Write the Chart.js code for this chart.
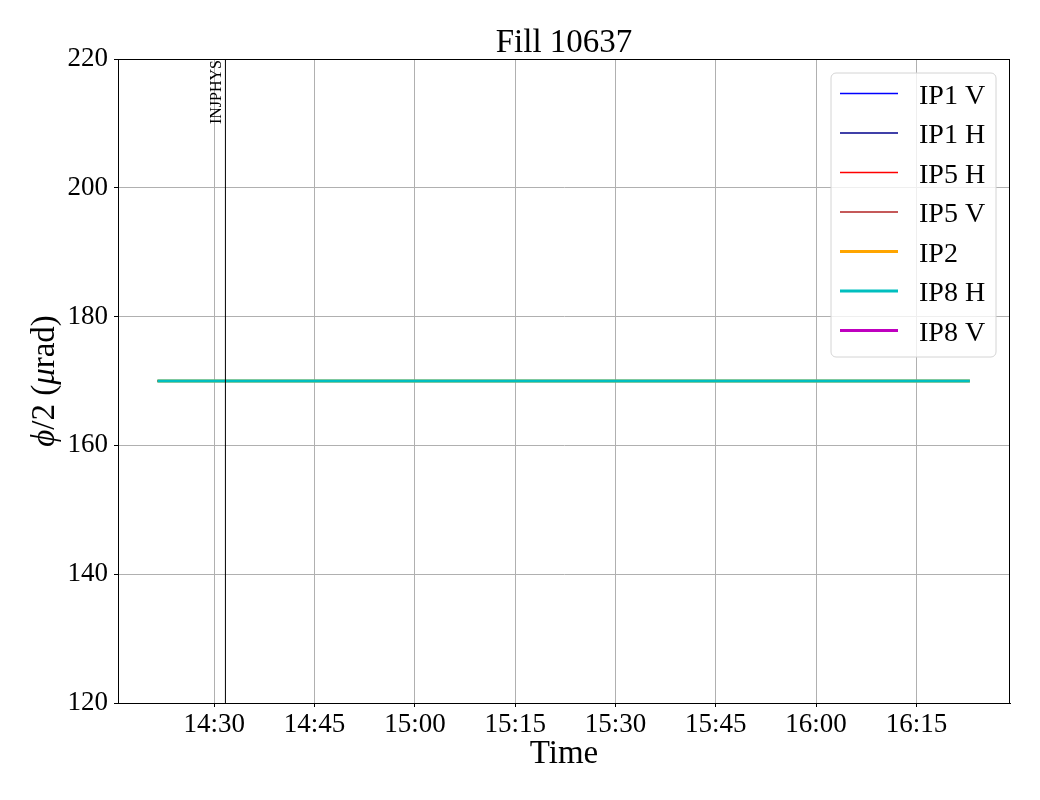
<!DOCTYPE html>
<html>
<head>
<meta charset="utf-8">
<script src="https://cdn.jsdelivr.net/npm/chart.js@4.4.1/dist/chart.umd.min.js"></script>
<style>
  body { margin: 0; background: #fff; }
  canvas { display: block; }
</style>
</head>
<body>
<canvas id="fillChart" width="1040" height="800"></canvas>
<script>
// data
const sampleTimes = ['14:21:30', '14:35:00', '15:00:00', '15:30:00', '16:00:00', '16:23:00'];
const ip1V = [170, 170, 170, 170, 170, 170];
const ip1H = [170, 170, 170, 170, 170, 170];
const ip5H = [170, 170, 170, 170, 170, 170];
const ip5V = [170, 170, 170, 170, 170, 170];
const ip2 = [170, 170, 170, 170, 170, 170];
const ip8H = [170, 170, 170, 170, 170, 170];
const ip8V = [];
const markerTimes = ['14:31:40'];
const markerNames = ['INJPHYS'];
const xTickLabels = ['14:30', '14:45', '15:00', '15:15', '15:30', '15:45', '16:00', '16:15'];
const yTicks = [120, 140, 160, 180, 200, 220];

const FONT = "'Liberation Serif', 'DejaVu Serif', serif";

function toMin(s) {
    const p = s.split(':').map(Number);
    return p[0] * 60 + p[1] + (p[2] || 0) / 60;
}
function fmt(m) {
    const h = Math.floor(m / 60), mm = Math.round(m - h * 60);
    return String(h).padStart(2, '0') + ':' + String(mm).padStart(2, '0');
}
const tMin = sampleTimes.map(toMin);
function pts(vals) {
    return vals.map((v, i) => ({ x: tMin[i], y: v }));
}

const series = [
    { label: 'IP1 V', data: ip1V, color: '#0000ff', width: 1.5 },
    { label: 'IP1 H', data: ip1H, color: '#00008b', width: 1.5 },
    { label: 'IP5 H', data: ip5H, color: '#ff0000', width: 1.5 },
    { label: 'IP5 V', data: ip5V, color: '#b22222', width: 1.5 },
    { label: 'IP2', data: ip2, color: '#ffa500', width: 3 },
    { label: 'IP8 H', data: ip8H, color: '#00bfbf', width: 3 },
    { label: 'IP8 V', data: ip8V, color: '#bf00bf', width: 3 }
];

const datasets = series.map((s, i) => ({
    label: s.label,
    data: pts(s.data),
    borderColor: s.color,
    borderWidth: s.width,
    pointRadius: 0,
    fill: false,
    order: 10 - i
}));
markerTimes.forEach((t, i) => {
    datasets.push({
        label: markerNames[i],
        data: [{ x: toMin(t), y: yTicks[0] }, { x: toMin(t), y: yTicks[yTicks.length - 1] }],
        borderColor: '#000',
        borderWidth: 1,
        pointRadius: 0,
        order: -1,
        isMarker: true
    });
});

// frame, texts, marker label and legend
const decor = {
    id: 'decor',
    afterDatasetsDraw(chart) {
        const { ctx, chartArea: a, scales } = chart;
        ctx.save();
        ctx.strokeStyle = '#000';
        ctx.lineWidth = 1;
        ctx.strokeRect(Math.round(a.left) + 0.5, Math.round(a.top) + 0.5,
            Math.round(a.right - a.left) - 1, Math.round(a.bottom - a.top));

        // marker labels
        ctx.fillStyle = '#000';
        ctx.font = '16px ' + FONT;
        markerTimes.forEach((t, i) => {
            const x = scales.x.getPixelForValue(toMin(t));
            ctx.save();
            ctx.translate(x - 4, a.top + 1);
            ctx.rotate(-Math.PI / 2);
            ctx.textAlign = 'right';
            ctx.textBaseline = 'alphabetic';
            ctx.fillText(markerNames[i], 0, 0);
            ctx.restore();
        });

        // title and x title
        const cx = (a.left + a.right) / 2;
        ctx.textAlign = 'center';
        ctx.textBaseline = 'alphabetic';
        ctx.font = '33px ' + FONT;
        ctx.fillText('Fill 10637', cx, 52);
        ctx.fillText('Time', cx, 763);

        // y title with italic phi and mu
        const parts = [['ϕ', true], ['/2 (', false], ['μ', true], ['rad)', false]];
        const fontFor = it => (it ? 'italic ' : '') + '33px ' + FONT;
        let total = 0;
        parts.forEach(p => { ctx.font = fontFor(p[1]); total += ctx.measureText(p[0]).width; });
        ctx.save();
        ctx.translate(54, (a.top + a.bottom) / 2);
        ctx.rotate(-Math.PI / 2);
        ctx.textAlign = 'left';
        let px = -total / 2;
        parts.forEach(p => {
            ctx.font = fontFor(p[1]);
            ctx.fillText(p[0], px, 0);
            px += ctx.measureText(p[0]).width;
        });
        ctx.restore();

        // legend
        const bx = 831, by = 73, bw = 165, bh = 284, r = 5;
        ctx.beginPath();
        ctx.moveTo(bx + r, by);
        ctx.arcTo(bx + bw, by, bx + bw, by + bh, r);
        ctx.arcTo(bx + bw, by + bh, bx, by + bh, r);
        ctx.arcTo(bx, by + bh, bx, by, r);
        ctx.arcTo(bx, by, bx + bw, by, r);
        ctx.closePath();
        ctx.fillStyle = 'rgba(255,255,255,0.8)';
        ctx.fill();
        ctx.strokeStyle = '#d4d4d4';
        ctx.lineWidth = 1;
        ctx.stroke();
        ctx.font = '28px ' + FONT;
        ctx.textAlign = 'left';
        series.forEach((s, i) => {
            const y = 93.5 + i * 39.5;
            ctx.beginPath();
            ctx.strokeStyle = s.color;
            ctx.lineWidth = s.width;
            ctx.moveTo(840, y);
            ctx.lineTo(898, y);
            ctx.stroke();
            ctx.fillStyle = '#000';
            ctx.fillText(s.label, 919, y + 10);
        });
        ctx.restore();
    }
};

new Chart(document.getElementById('fillChart').getContext('2d'), {
    type: 'line',
    data: { datasets: datasets },
    options: {
        responsive: false,
        animation: false,
        layout: { padding: { top: 59, right: 30, left: 0, bottom: 0 } },
        plugins: {
            legend: { display: false },
            title: { display: false },
            tooltip: { enabled: false }
        },
        scales: {
            x: {
                type: 'linear',
                min: 855.6,
                max: 989.0,
                afterFit(scale) { scale.height = 97; },
                afterBuildTicks(scale) {
                    scale.ticks = xTickLabels.map(l => ({ value: toMin(l) }));
                },
                ticks: {
                    font: { family: FONT, size: 27 },
                    color: '#000',
                    padding: 2,
                    maxRotation: 0,
                    autoSkip: false,
                    callback: v => fmt(v)
                },
                grid: { color: '#b0b0b0', lineWidth: 1, tickLength: 4, tickColor: '#000' },
                border: { color: '#000', width: 1 }
            },
            y: {
                min: yTicks[0],
                max: yTicks[yTicks.length - 1],
                afterFit(scale) { scale.width = 118; },
                afterBuildTicks(scale) {
                    scale.ticks = yTicks.map(v => ({ value: v }));
                },
                ticks: {
                    font: { family: FONT, size: 27 },
                    color: '#000',
                    padding: 6
                },
                grid: { color: '#b0b0b0', lineWidth: 1, tickLength: 4, tickColor: '#000' },
                border: { color: '#000', width: 1 }
            }
        }
    },
    plugins: [decor]
});
</script>
</body>
</html>
